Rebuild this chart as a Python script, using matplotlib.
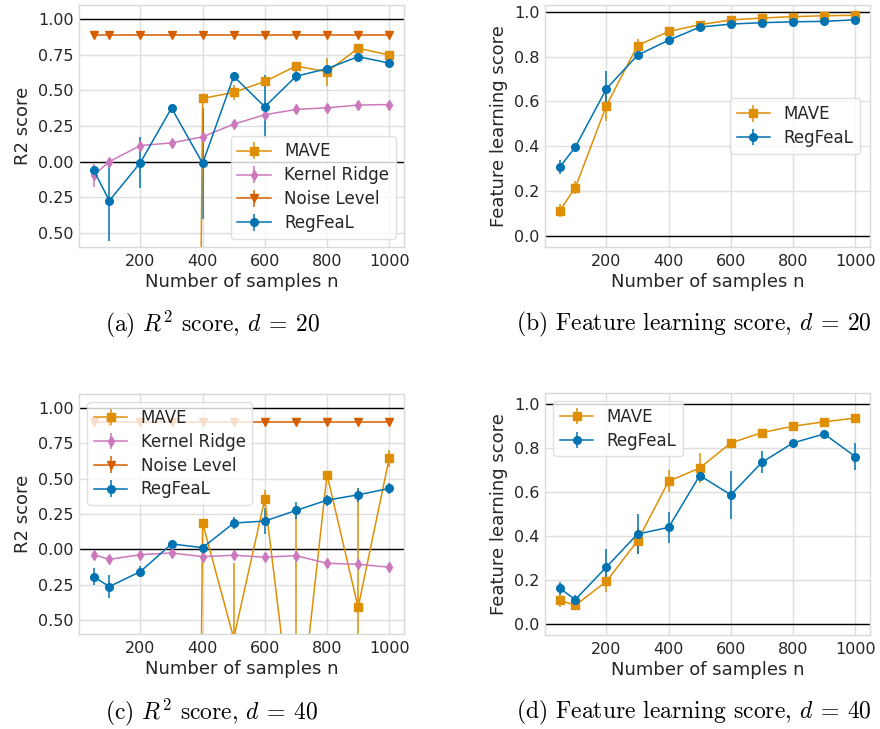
import numpy as np
import matplotlib
matplotlib.use("Agg")
import matplotlib.pyplot as plt

# ---------------- data ----------------
n_samples = [50, 100, 200, 300, 400, 500, 600, 700, 800, 900, 1000]

# (a) R2 score, d = 20
a_mave = [-30.0, -25.0, -20.0, -22.0, 0.444, 0.486, 0.563, 0.671, 0.631, 0.796, 0.749]
a_mave_err = [5.0, 5.0, 5.0, 5.0, 0.02, 0.05, 0.03, 0.02, 0.10, 0.02, 0.02]
a_kr = [-0.096, 0.0, 0.113, 0.131, 0.174, 0.263, 0.329, 0.366, 0.378, 0.397, 0.401]
a_kr_err = [0.08, 0.02, 0.02, 0.02, 0.02, 0.02, 0.02, 0.015, 0.015, 0.015, 0.015]
a_noise = [0.888] * 11
a_noise_err = [0.0] * 11
a_reg = [-0.061, -0.275, -0.007, 0.376, -0.012, 0.599, 0.385, 0.599, 0.653, 0.737, 0.692]
a_reg_err = [0.03, 0.28, 0.18, 0.01, 0.39, 0.03, 0.22, 0.04, 0.02, 0.01, 0.01]

# (b) Feature learning score, d = 20
b_mave = [0.112, 0.215, 0.581, 0.849, 0.912, 0.942, 0.963, 0.972, 0.978, 0.982, 0.984]
b_mave_err = [0.03, 0.03, 0.07, 0.03, 0.02, 0.01, 0.01, 0.01, 0.01, 0.01, 0.01]
b_reg = [0.307, 0.396, 0.656, 0.806, 0.873, 0.931, 0.945, 0.951, 0.955, 0.957, 0.964]
b_reg_err = [0.03, 0.02, 0.08, 0.01, 0.01, 0.01, 0.01, 0.01, 0.01, 0.01, 0.01]

# (c) R2 score, d = 40
c_mave = [-30.0, -25.0, -20.0, -22.0, 0.186, -0.63, 0.358, -1.46, 0.529, -0.412, 0.645]
c_mave_err = [5.0, 5.0, 5.0, 5.0, 0.03, 0.535, 0.06, 1.76, 0.02, 0.84, 0.06]
c_kr = [-0.038, -0.071, -0.038, -0.026, -0.052, -0.042, -0.056, -0.045, -0.099, -0.106, -0.127]
c_kr_err = [0.02, 0.015, 0.015, 0.015, 0.015, 0.015, 0.015, 0.015, 0.015, 0.015, 0.015]
c_noise = [0.899] * 11
c_noise_err = [0.0] * 11
c_reg = [-0.195, -0.264, -0.158, 0.038, 0.012, 0.186, 0.200, 0.275, 0.348, 0.386, 0.431]
c_reg_err = [0.06, 0.08, 0.04, 0.03, 0.01, 0.04, 0.09, 0.06, 0.04, 0.05, 0.04]

# (d) Feature learning score, d = 40
d_mave = [0.108, 0.085, 0.194, 0.378, 0.649, 0.709, 0.823, 0.870, 0.899, 0.919, 0.936]
d_mave_err = [0.03, 0.01, 0.05, 0.06, 0.05, 0.07, 0.01, 0.01, 0.01, 0.01, 0.01]
d_reg = [0.162, 0.111, 0.259, 0.409, 0.439, 0.675, 0.587, 0.735, 0.823, 0.864, 0.761]
d_reg_err = [0.03, 0.02, 0.08, 0.09, 0.07, 0.02, 0.11, 0.05, 0.01, 0.01, 0.06]

r2_ticks = [1.0, 0.75, 0.5, 0.25, 0.0, -0.25, -0.5]
r2_ticklabels = ["1.00", "0.75", "0.50", "0.25", "0.00", "0.25", "0.50"]
fl_ticks = [0.0, 0.2, 0.4, 0.6, 0.8, 1.0]
x_ticks = [200, 400, 600, 800, 1000]

captions = [r"(a) $R^2$ score, $d\:=\:20$",
            r"(b) Feature learning score, $d\:=\:20$",
            r"(c) $R^2$ score, $d\:=\:40$",
            r"(d) Feature learning score, $d\:=\:40$"]

# ---------------- style ----------------
C_MAVE = "#de8f05"
C_KR = "#cc78bc"
C_NOISE = "#d55e00"
C_REG = "#0173b2"
TXT = "#262626"

plt.rcParams.update({
    "font.family": ["DejaVu Sans"],
    "mathtext.fontset": "cm",
    "axes.edgecolor": "#d9d9d9",
    "axes.linewidth": 1.0,
    "grid.color": "#dedede",
    "grid.linewidth": 1.0,
    "xtick.color": TXT,
    "ytick.color": TXT,
    "axes.labelcolor": TXT,
    "text.color": TXT,
    "xtick.major.size": 0,
    "ytick.major.size": 0,
    "xtick.major.pad": 5,
    "ytick.major.pad": 4,
})

fig = plt.figure(figsize=(8.8, 7.29), dpi=100)
W, H = 880, 729


def make_ax(left, top, right, bottom):
    return fig.add_axes([left / W, 1 - bottom / H, (right - left) / W, (bottom - top) / H])


axA = make_ax(79, 5, 404, 247)
axB = make_ax(545, 5, 870, 247)
axC = make_ax(79, 394, 404, 634)
axD = make_ax(545, 393, 870, 635)

lw = 1.1
eb_kw = dict(elinewidth=1.1, capsize=0, linewidth=lw)


def plot_mave(ax, y, e):
    ax.errorbar(n_samples, y, yerr=e, color=C_MAVE, marker="s", ms=6, label="MAVE", **eb_kw)


def plot_kr(ax, y, e):
    ax.errorbar(n_samples, y, yerr=e, color=C_KR, marker="d", ms=5.5, label="Kernel Ridge", **eb_kw)


def plot_noise(ax, y, e):
    ax.errorbar(n_samples, y, yerr=e, color=C_NOISE, marker="v", ms=5.5, label="Noise Level", **eb_kw)


def plot_reg(ax, y, e):
    ax.errorbar(n_samples, y, yerr=e, color=C_REG, marker="o", ms=5.5, label="RegFeaL", **eb_kw)


leg_kw = dict(fontsize=12, framealpha=0.8, edgecolor="#d9d9d9", borderpad=0.4, labelspacing=0.35)

for ax in (axA, axB, axC, axD):
    ax.set_axisbelow(True)
    ax.grid(True)
    ax.axhline(0, color="black", lw=1.0, zorder=1.5)
    ax.axhline(1, color="black", lw=1.0, zorder=1.5)
    ax.set_xlim(2.5, 1047.5)
    ax.set_xticks(x_ticks)
    ax.tick_params(labelsize=11.5)
    ax.set_xlabel("Number of samples n", fontsize=13, labelpad=3)

# (a)
plot_mave(axA, a_mave, a_mave_err)
plot_kr(axA, a_kr, a_kr_err)
plot_noise(axA, a_noise, a_noise_err)
plot_reg(axA, a_reg, a_reg_err)
axA.set_ylim(-0.6, 1.1)
axA.set_yticks(r2_ticks)
axA.set_yticklabels(r2_ticklabels)
axA.set_ylabel("R2 score", fontsize=13)
axA.legend(loc="lower right", **leg_kw)

# (b)
plot_mave(axB, b_mave, b_mave_err)
plot_reg(axB, b_reg, b_reg_err)
axB.set_ylim(-0.05, 1.03)
axB.set_yticks(fl_ticks)
axB.set_ylabel("Feature learning score", fontsize=13)
axB.legend(loc="center right", bbox_to_anchor=(0.995, 0.5), **leg_kw)

# (c)
plot_mave(axC, c_mave, c_mave_err)
plot_kr(axC, c_kr, c_kr_err)
plot_noise(axC, c_noise, c_noise_err)
plot_reg(axC, c_reg, c_reg_err)
axC.set_ylim(-0.6, 1.1)
axC.set_yticks(r2_ticks)
axC.set_yticklabels(r2_ticklabels)
axC.set_ylabel("R2 score", fontsize=13)
axC.legend(loc="upper left", **leg_kw)

# (d)
plot_mave(axD, d_mave, d_mave_err)
plot_reg(axD, d_reg, d_reg_err)
axD.set_ylim(-0.05, 1.05)
axD.set_yticks(fl_ticks)
axD.set_ylabel("Feature learning score", fontsize=13)
axD.legend(loc="upper left", **leg_kw)

# captions
cap_kw = dict(ha="center", va="center", fontsize=17, color="black", family="cmr10")
fig.text(212 / W, 1 - 324 / H, captions[0], **cap_kw)
fig.text(694 / W, 1 - 324 / H, captions[1], **cap_kw)
fig.text(212 / W, 1 - 712 / H, captions[2], **cap_kw)
fig.text(694 / W, 1 - 712 / H, captions[3], **cap_kw)

fig.savefig("out.png", dpi=100)
